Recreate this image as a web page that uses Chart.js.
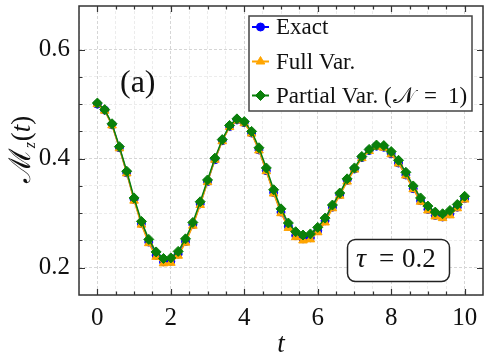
<!DOCTYPE html>
<html>
<head>
<meta charset="utf-8">
<script src="https://cdn.jsdelivr.net/npm/chart.js@4"></script>
<style>
  html, body { margin: 0; padding: 0; background: #fff; }
  #wrap { width: 489px; height: 363px; }
</style>
</head>
<body>
<div id="wrap"><canvas id="chart" width="489" height="363"></canvas></div>
<script>
// time grid (t)
const times = [0, 0.2, 0.4, 0.6, 0.8, 1, 1.2, 1.4, 1.6, 1.8, 2, 2.2, 2.4, 2.6, 2.8, 3, 3.2, 3.4, 3.6, 3.8,
  4, 4.2, 4.4, 4.6, 4.8, 5, 5.2, 5.4, 5.6, 5.8, 6, 6.2, 6.4, 6.6, 6.8, 7, 7.2, 7.4, 7.6, 7.8,
  8, 8.2, 8.4, 8.6, 8.8, 9, 9.2, 9.4, 9.6, 9.8, 10];

const exactVals = [0.500, 0.489, 0.462, 0.420, 0.374, 0.325, 0.281, 0.247, 0.223, 0.211, 0.212, 0.225, 0.248, 0.279, 0.317, 0.358, 0.398, 0.433, 0.459, 0.471,
  0.466, 0.447, 0.416, 0.378, 0.338, 0.302, 0.276, 0.259, 0.253, 0.255, 0.268, 0.286, 0.311, 0.334, 0.360, 0.381, 0.402, 0.415, 0.423, 0.421,
  0.409, 0.392, 0.370, 0.345, 0.323, 0.307, 0.296, 0.293, 0.299, 0.311, 0.327];

const fullVals = [0.500, 0.488, 0.461, 0.419, 0.373, 0.323, 0.279, 0.245, 0.220, 0.208, 0.209, 0.222, 0.246, 0.277, 0.315, 0.357, 0.398, 0.432, 0.458, 0.470,
  0.465, 0.446, 0.415, 0.377, 0.336, 0.300, 0.273, 0.256, 0.250, 0.252, 0.265, 0.283, 0.309, 0.332, 0.358, 0.380, 0.401, 0.414, 0.422, 0.420,
  0.408, 0.391, 0.369, 0.344, 0.321, 0.305, 0.294, 0.291, 0.296, 0.309, 0.325];

const partialVals = [0.502, 0.490, 0.464, 0.422, 0.377, 0.328, 0.285, 0.252, 0.229, 0.217, 0.218, 0.230, 0.253, 0.283, 0.321, 0.361, 0.401, 0.435, 0.461, 0.473,
  0.468, 0.450, 0.420, 0.383, 0.343, 0.308, 0.282, 0.266, 0.260, 0.262, 0.274, 0.291, 0.315, 0.337, 0.363, 0.383, 0.404, 0.417, 0.425, 0.424,
  0.413, 0.397, 0.375, 0.350, 0.328, 0.313, 0.302, 0.299, 0.305, 0.316, 0.331];

const seriesLabels = ['Exact', 'Full Var.', 'Partial Var. (\u{1D4A9} = 1)'];
const xTickLabels = [0, 2, 4, 6, 8, 10];
const yTickLabels = [0.2, 0.4, 0.6];

const SERIF = '"Liberation Serif", "DejaVu Serif", serif';
const toPoints = vals => times.map((t, i) => ({ x: t, y: vals[i] }));

const styles = [
  { color: '#0000ff', point: 'circle', radius: 4 },
  { color: '#ffa500', point: 'triangle', radius: 5 },
  { color: '#0a800a', point: 'rectRot', radius: 5 }
];

const isMajorX = v => xTickLabels.includes(v);
const isMajorY = v => yTickLabels.some(m => Math.abs(m - v) < 1e-6);
const onStepY = v => Math.abs(Math.round(v * 100) % 5) === 0;
const noPad = s => { s.paddingTop = 0; s.paddingBottom = 0; s.paddingLeft = 0; s.paddingRight = 0; };

// frame + inward ticks on all four sides
const framePlugin = {
  id: 'frame',
  afterDatasetsDraw(chart) {
    const { ctx, chartArea: a, scales: { x, y } } = chart;
    ctx.save();
    ctx.strokeStyle = '#333';
    ctx.lineWidth = 1.2;
    ctx.beginPath();
    x.ticks.forEach(t => {
      if (t.value <= x.min || t.value >= x.max) return;
      const px = Math.round(x.getPixelForValue(t.value)) + 0.5;
      const len = isMajorX(t.value) ? 6 : 3.5;
      ctx.moveTo(px, a.bottom); ctx.lineTo(px, a.bottom - len);
      ctx.moveTo(px, a.top); ctx.lineTo(px, a.top + len);
    });
    y.ticks.forEach(t => {
      if (!onStepY(t.value) || t.value <= y.min || t.value >= y.max) return;
      const py = Math.round(y.getPixelForValue(t.value)) + 0.5;
      const len = isMajorY(t.value) ? 6 : 3.5;
      ctx.moveTo(a.left, py); ctx.lineTo(a.left + len, py);
      ctx.moveTo(a.right, py); ctx.lineTo(a.right - len, py);
    });
    ctx.stroke();
    ctx.lineWidth = 1.5;
    ctx.strokeRect(a.left, a.top, a.right - a.left, a.bottom - a.top);
    ctx.restore();
  }
};

// legend box, panel label, tau box and y title
const annotPlugin = {
  id: 'annot',
  afterDraw(chart) {
    const { ctx } = chart;
    ctx.save();

    // legend
    ctx.fillStyle = '#fff';
    ctx.fillRect(249, 16, 223, 95);
    ctx.strokeStyle = '#444';
    ctx.lineWidth = 1.5;
    ctx.strokeRect(249, 16, 223, 95);
    const rows = [27, 61.5, 95.5];
    chart.data.datasets.forEach((ds, i) => {
      const yy = rows[i];
      ctx.strokeStyle = ds.borderColor;
      ctx.lineWidth = 2;
      ctx.beginPath();
      ctx.moveTo(252, yy); ctx.lineTo(269, yy);
      ctx.stroke();
      ctx.fillStyle = ds.pointBackgroundColor;
      ctx.strokeStyle = ds.pointBorderColor;
      ctx.lineWidth = 1;
      Chart.helpers.drawPoint(ctx, { pointStyle: ds.pointStyle, radius: ds.pointRadius, rotation: 0, borderWidth: 1 }, 260.5, yy);
      ctx.fillStyle = '#111';
      ctx.font = '23px ' + SERIF;
      ctx.textBaseline = 'middle';
      ctx.textAlign = 'left';
      if (i < 2) {
        ctx.fillText(seriesLabels[i], 276, yy + 1);
      } else {
        // spread the last entry to the reference width
        ctx.fillText('Partial Var. (', 276, yy + 1);
        ctx.fillText('\u{1D4A9}', 393, yy + 1);
        ctx.fillText('=', 424, yy + 1);
        ctx.fillText('1)', 448, yy + 1);
      }
    });

    // (a)
    ctx.fillStyle = '#111';
    ctx.font = '32px ' + SERIF;
    ctx.textBaseline = 'middle';
    ctx.textAlign = 'left';
    ctx.fillText('(a)', 120, 84);

    // tau box
    ctx.strokeStyle = '#222';
    ctx.lineWidth = 1.5;
    ctx.beginPath();
    ctx.roundRect(347.5, 239.5, 102, 42, 8);
    ctx.fillStyle = '#fff';
    ctx.fill();
    ctx.stroke();
    ctx.fillStyle = '#111';
    ctx.font = 'italic 28px ' + SERIF;
    ctx.fillText('\u03C4', 356, 260);
    ctx.font = '27px ' + SERIF;
    ctx.fillText('=', 379, 260);
    ctx.fillText('0.2', 402, 260);

    // y title: Mz(t)
    ctx.translate(21, 150);
    ctx.rotate(-Math.PI / 2);
    ctx.textBaseline = 'alphabetic';
    const parts = [
      { s: '\u2133', f: '30px ' + SERIF, dy: 0 },
      { s: 'z', f: 'italic 16px ' + SERIF, dy: 5 },
      { s: '(', f: '27px ' + SERIF, dy: 0 },
      { s: 't', f: 'italic 27px ' + SERIF, dy: 0 },
      { s: ')', f: '27px ' + SERIF, dy: 0 }
    ];
    let total = 0;
    parts.forEach(p => { ctx.font = p.f; p.w = ctx.measureText(p.s).width; total += p.w; });
    let cx = -total / 2;
    parts.forEach(p => {
      ctx.font = p.f;
      ctx.fillText(p.s, cx, 9 + p.dy);
      cx += p.w + (p.s === 'z' ? 1 : 0);
    });
    ctx.restore();
  }
};

const datasets = [exactVals, fullVals, partialVals].map((vals, i) => ({
  label: seriesLabels[i],
  data: toPoints(vals),
  borderColor: styles[i].color,
  backgroundColor: styles[i].color,
  pointBackgroundColor: styles[i].color,
  pointBorderColor: styles[i].color,
  pointStyle: styles[i].point,
  pointRadius: styles[i].radius,
  pointBorderWidth: 1,
  borderWidth: 1.5,
  tension: 0,
  order: 3 - i
}));

new Chart(document.getElementById('chart'), {
  type: 'line',
  data: { datasets },
  plugins: [framePlugin, annotPlugin],
  options: {
    responsive: false,
    animation: false,
    devicePixelRatio: 1,
    layout: { padding: { left: 0, right: 4, top: 4, bottom: 0 } },
    plugins: { legend: { display: false }, tooltip: { enabled: false } },
    scales: {
      x: {
        type: 'linear',
        min: -0.5,
        max: 10.5,
        afterFit: s => { s.height = 68; noPad(s); },
        border: { display: false, dash: [3, 2] },
        grid: {
          drawTicks: false,
          color: c => isMajorX(c.tick.value) ? '#d6d6d6' : '#ececec',
          lineWidth: 1
        },
        ticks: {
          stepSize: 0.5,
          autoSkip: false,
          maxRotation: 0,
          padding: 8,
          color: '#111',
          font: { family: SERIF, size: 25 },
          callback: v => isMajorX(v) ? String(v) : ''
        },
        title: {
          display: true,
          text: 't',
          color: '#111',
          font: { family: SERIF, size: 27, style: 'italic' },
          padding: { top: 0, bottom: 2 }
        }
      },
      y: {
        min: 0.15,
        max: 0.68,
        afterFit: s => { s.width = 79; noPad(s); },
        border: { display: false, dash: [3, 2] },
        grid: {
          drawTicks: false,
          color: c => !onStepY(c.tick.value) ? 'rgba(0,0,0,0)' : (isMajorY(c.tick.value) ? '#d6d6d6' : '#ececec'),
          lineWidth: 1
        },
        ticks: {
          stepSize: 0.05,
          autoSkip: false,
          padding: 9,
          color: '#111',
          font: { family: SERIF, size: 25 },
          callback: v => isMajorY(v) ? v.toFixed(1) : ''
        }
      }
    }
  }
});
</script>
</body>
</html>
